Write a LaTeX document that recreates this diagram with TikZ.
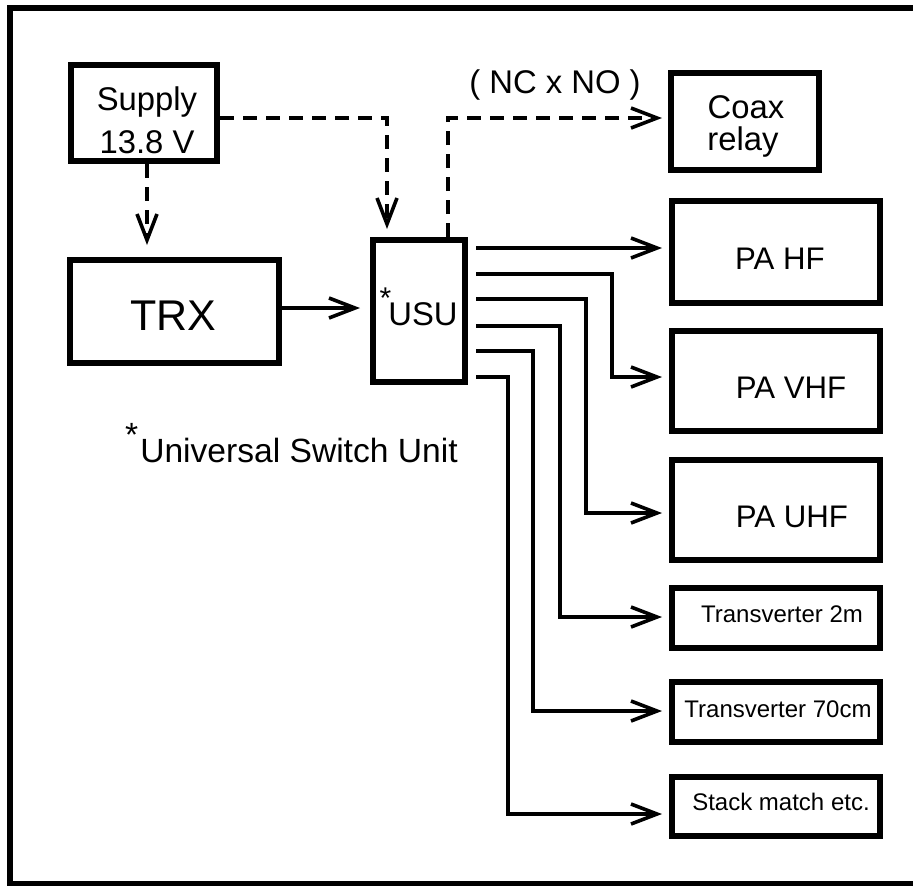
\documentclass[tikz,border=0pt]{standalone}
\usepackage{fontspec}
\setmainfont{Liberation Sans}
\usetikzlibrary{arrows.meta}
\begin{document}
\begin{tikzpicture}[x=0.5pt,y=-0.5pt,
  box/.style={draw,line width=3pt,rectangle,inner sep=0pt,minimum width=104pt},
  txt/.style={anchor=base,inner sep=0pt},
  conn/.style={line width=1.8pt,-{Straight Barb[length=13pt,width=10pt,line width=1.8pt]},shorten >=3.5pt},
  dconn/.style={conn,dash pattern=on 7pt off 4.5pt},
  outconn/.style={conn,shorten <=4pt},
  f16/.style={font=\fontsize{16.4}{20}\selectfont},
  f15/.style={font=\fontsize{15.6}{19}\selectfont},
  f12/.style={font=\fontsize{12}{14}\selectfont}]
\useasboundingbox (0,0) rectangle (913,885);
\fill[white] (0,0) rectangle (913,885);
\begin{scope}
\clip (0,0) rectangle (913,885);
\draw[line width=3pt] (10,7.5) rectangle (920,884);
\end{scope}

% boxes
\node[box,minimum width=73pt,minimum height=48pt] (supply) at (144,113) {};
\node[box,minimum width=104.5pt,minimum height=51.5pt] (trx) at (174.5,311.5) {};
\node[box,minimum width=46pt,minimum height=71pt] (usu) at (419,311) {};
\node[box,minimum width=74pt,minimum height=48.5pt] (coax) at (745,121.5) {};
\node[box,minimum height=51pt] (pahf) at (776,252) {};
\node[box,minimum height=50pt] (pavhf) at (776,381) {};
\node[box,minimum height=50pt] (pauhf) at (776,510) {};
\node[box,minimum height=30pt] (t2m) at (776,618) {};
\node[box,minimum height=30pt] (t70) at (776,712) {};
\node[box,minimum height=29.5pt] (stack) at (776,806.5) {};

% texts
\node[txt,f16] (supplyA) at (147,110) {Supply};
\node[txt,f16] (supplyB) at (147,153) {13.8 V};
\node[txt,font=\fontsize{21.5}{24}\selectfont] (trxt) at (173,330) {TRX};
\node[txt,f16] (usut) at (423,325) {\makebox[0pt]{\hspace{-3pt}\raisebox{8.5pt}{\fontsize{15}{18}\selectfont *}}USU};
\node[txt,f16] (coaxA) at (746,118) {Coax};
\node[txt,f16] (coaxB) at (743,150) {relay};
\node[txt,f16] (ncno) at (555,93) {( NC x NO )};
\node[txt,f15] (pahft) at (780,269) {PA HF};
\node[txt,f15] (pavhft) at (791,398) {PA VHF};
\node[txt,f15] (pauhft) at (792,527) {PA UHF};
\node[txt,f12] (t2mt) at (782,622) {Transverter 2m};
\node[txt,f12] (t70t) at (778,717) {Transverter 70cm};
\node[txt,f12] (stackt) at (781,810) {Stack match etc.};
\node[txt,font=\fontsize{16.8}{20}\selectfont] (usw) at (299,462) {\llap{\raisebox{7.8pt}{*}\hspace{1pt}}Universal Switch Unit};

% connectors
\draw[dconn,shorten >=6pt] (supply.south -| 147,0) -- (trx.north -| 147,0);
\draw[dconn,shorten >=4pt] (supply.east |- 0,118) -| (usu.north -| 387,0);
\draw[conn,shorten >=5pt] (trx.east |- 0,308) -- (usu.west |- 0,308);
\draw[dconn,shorten >=3pt] (usu.north -| 448,0) |- (coax.west |- 0,118);
\draw[outconn] (usu.east |- 0,248) -- (pahf.west |- 0,248);
\draw[outconn] (usu.east |- 0,274) -| (612,377) -- (pavhf.west |- 0,377);
\draw[outconn] (usu.east |- 0,299) -| (586,513) -- (pauhf.west |- 0,513);
\draw[outconn] (usu.east |- 0,326) -| (560,617) -- (t2m.west |- 0,617);
\draw[outconn] (usu.east |- 0,351) -| (533,711) -- (t70.west |- 0,711);
\draw[outconn] (usu.east |- 0,377) -| (508,814) -- (stack.west |- 0,814);
\end{tikzpicture}
\end{document}
